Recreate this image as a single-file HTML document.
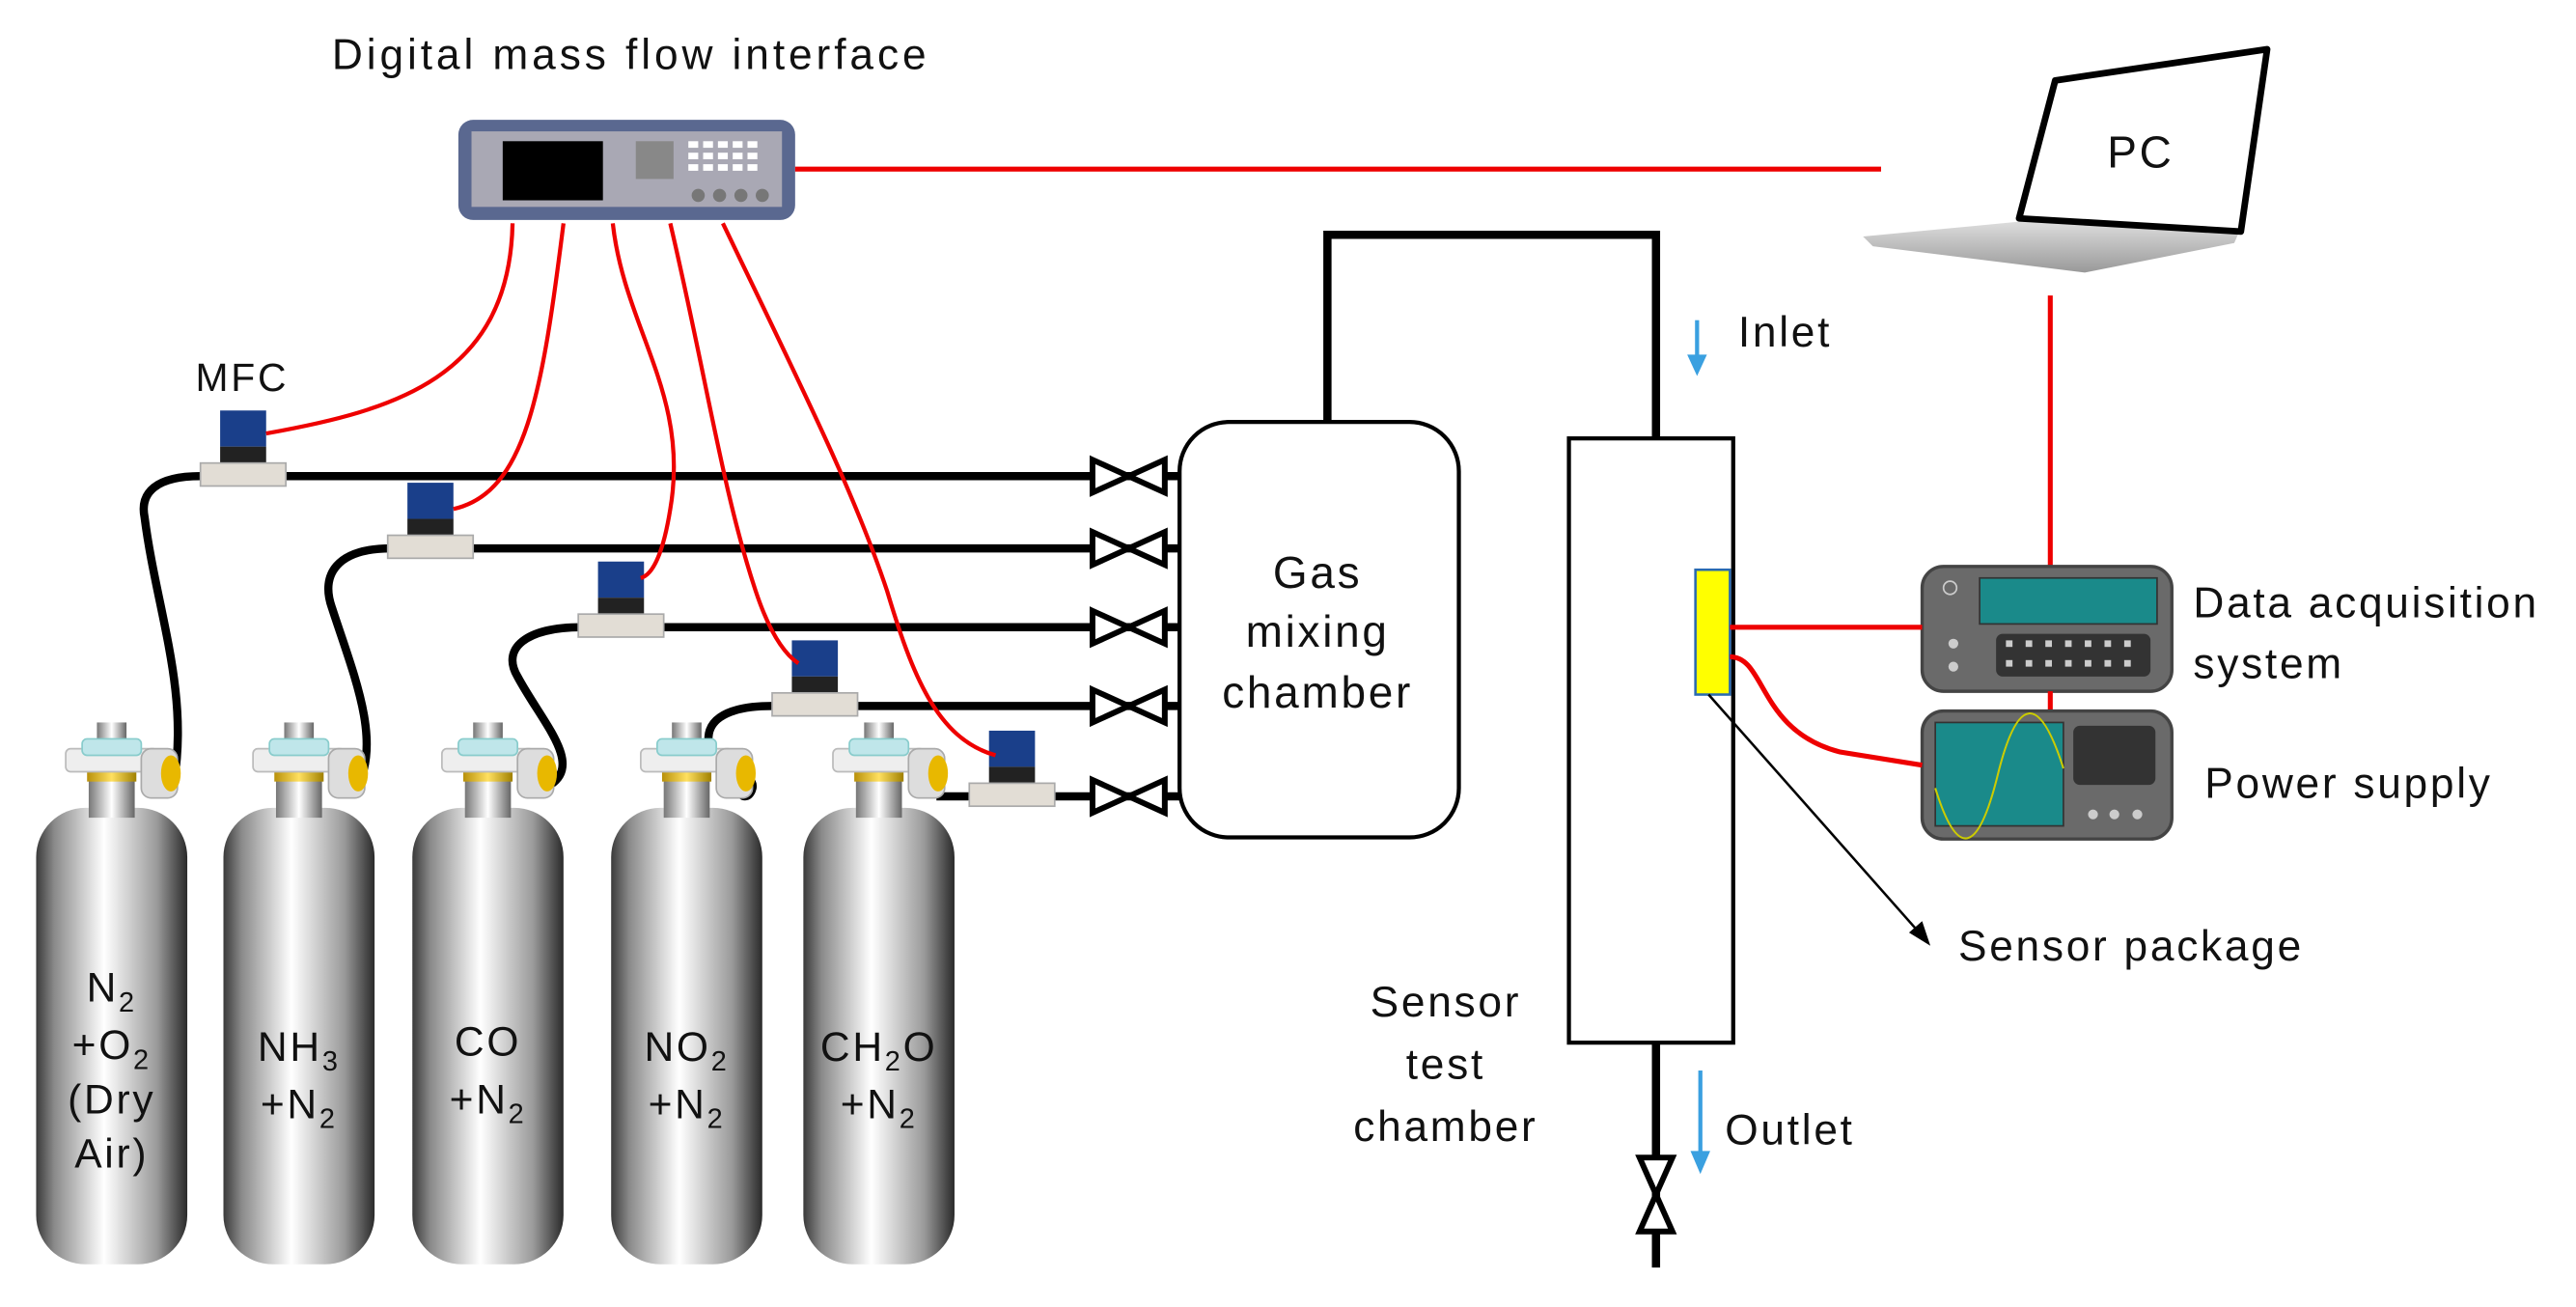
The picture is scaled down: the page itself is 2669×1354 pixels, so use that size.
<!DOCTYPE html>
<html><head><meta charset="utf-8"><style>
html,body{margin:0;padding:0;background:#fff;}
svg{display:block;}
text{font-family:"Liberation Sans",sans-serif;fill:#111;letter-spacing:1.6px;}
</style></head><body>
<svg width="2669" height="1354" viewBox="0 0 1568 796" preserveAspectRatio="none" xmlns="http://www.w3.org/2000/svg">
<defs>
<linearGradient id="cyl" x1="0" x2="1" y1="0" y2="0">
<stop offset="0" stop-color="#3a3a3a"/><stop offset="0.12" stop-color="#8a8a8a"/><stop offset="0.45" stop-color="#ffffff"/><stop offset="0.8" stop-color="#9a9a9a"/><stop offset="1" stop-color="#2a2a2a"/>
</linearGradient>
<linearGradient id="neck" x1="0" x2="1"><stop offset="0" stop-color="#777"/><stop offset="0.5" stop-color="#fff"/><stop offset="1" stop-color="#666"/></linearGradient>
<linearGradient id="yel" x1="0" x2="1"><stop offset="0" stop-color="#b8900a"/><stop offset="0.5" stop-color="#ffe060"/><stop offset="1" stop-color="#a08000"/></linearGradient>
<linearGradient id="base" x1="0" x2="0" y1="0" y2="1"><stop offset="0" stop-color="#ddd"/><stop offset="1" stop-color="#999"/></linearGradient>
<g id="cylinder">
<rect x="-46" y="492" width="92" height="278" rx="30" fill="url(#cyl)"/>
<rect x="-14" y="474" width="28" height="24" fill="url(#neck)"/>
<rect x="-15" y="467" width="30" height="9" fill="url(#yel)"/>
<rect x="-28" y="456" width="56" height="14" rx="3" fill="#eee" stroke="#bbb"/>
<rect x="-9" y="440" width="18" height="18" fill="url(#neck)"/>
<rect x="-18" y="450" width="36" height="10" rx="3" fill="#bfe6ea" stroke="#8cc"/>
<rect x="18" y="456" width="22" height="30" rx="6" fill="#ddd" stroke="#aaa"/>
<ellipse cx="36" cy="471" rx="6" ry="11" fill="#e8b800"/>
</g>
<g id="mfc">
<rect x="-14" y="-18" width="28" height="22" fill="#1a3f8a"/>
<rect x="-14" y="4" width="28" height="14" fill="#222"/>
<rect x="-26" y="14" width="52" height="14" fill="#e2ddd5" stroke="#aaa"/>
</g>
<g id="valveh">
<path d="M-22,-10 L22,10 L22,-10 L-22,10 Z" fill="#fff" stroke="#000" stroke-width="3.5" stroke-linejoin="miter"/>
</g>
</defs>

<!-- Title -->
<text x="202" y="42" font-size="26" style="letter-spacing:2.3px">Digital mass flow interface</text>
<!-- Interface -->
<rect x="279" y="73" width="205" height="61" rx="9" fill="#5a6890"/>
<rect x="287" y="80" width="189" height="46" fill="#a9a8b4"/>
<rect x="306" y="86" width="61" height="36" fill="#000"/>
<rect x="387" y="86" width="23" height="23" fill="#888"/>
<g fill="#fff"><rect x="419" y="86" width="6" height="4"/><rect x="428" y="86" width="6" height="4"/><rect x="437" y="86" width="6" height="4"/><rect x="446" y="86" width="6" height="4"/><rect x="455" y="86" width="6" height="4"/>
<rect x="419" y="93" width="6" height="4"/><rect x="428" y="93" width="6" height="4"/><rect x="437" y="93" width="6" height="4"/><rect x="446" y="93" width="6" height="4"/><rect x="455" y="93" width="6" height="4"/>
<rect x="419" y="100" width="6" height="4"/><rect x="428" y="100" width="6" height="4"/><rect x="437" y="100" width="6" height="4"/><rect x="446" y="100" width="6" height="4"/><rect x="455" y="100" width="6" height="4"/></g>
<g fill="#777"><circle cx="425" cy="119" r="4"/><circle cx="438" cy="119" r="4"/><circle cx="451" cy="119" r="4"/><circle cx="464" cy="119" r="4"/></g>
<line x1="484" y1="103" x2="1145" y2="103" stroke="#e00" stroke-width="3"/>

<!-- Laptop -->
<polygon points="1134,144 1229,135 1363,141 1360,148 1269,166 1140,150" fill="url(#base)"/>
<polygon points="1251,49 1380,30 1364,141 1229,133" fill="#fff" stroke="#000" stroke-width="4" stroke-linejoin="round"/>
<text x="1303" y="102" font-size="27" text-anchor="middle">PC</text>
<line x1="1248" y1="180" x2="1248" y2="346" stroke="#e00" stroke-width="3"/>

<!-- DAQ -->
<rect x="1170" y="345" width="152" height="76" rx="13" fill="#6a6a6a" stroke="#444" stroke-width="2"/>
<rect x="1205" y="352" width="108" height="28" fill="#1a8a8a" stroke="#333"/>
<rect x="1215" y="386" width="94" height="26" rx="4" fill="#333"/>
<g fill="#ccc"><rect x="1221" y="390" width="4" height="4"/><rect x="1233" y="390" width="4" height="4"/><rect x="1245" y="390" width="4" height="4"/><rect x="1257" y="390" width="4" height="4"/><rect x="1269" y="390" width="4" height="4"/><rect x="1281" y="390" width="4" height="4"/><rect x="1293" y="390" width="4" height="4"/><rect x="1221" y="402" width="4" height="4"/><rect x="1233" y="402" width="4" height="4"/><rect x="1245" y="402" width="4" height="4"/><rect x="1257" y="402" width="4" height="4"/><rect x="1269" y="402" width="4" height="4"/><rect x="1281" y="402" width="4" height="4"/><rect x="1293" y="402" width="4" height="4"/></g>
<circle cx="1187" cy="358" r="4" fill="none" stroke="#ccc"/><circle cx="1189" cy="392" r="3" fill="#ccc"/><circle cx="1189" cy="406" r="3" fill="#ccc"/>
<line x1="1248" y1="421" x2="1248" y2="433" stroke="#e00" stroke-width="3"/>
<!-- Power supply -->
<rect x="1170" y="433" width="152" height="78" rx="13" fill="#6a6a6a" stroke="#444" stroke-width="2"/>
<rect x="1178" y="440" width="78" height="63" fill="#1a8a8a" stroke="#333"/>
<path d="M1178,480 Q1198,545 1216,472 T1256,468" fill="none" stroke="#cc0" stroke-width="1.2"/>
<rect x="1262" y="442" width="50" height="36" rx="4" fill="#333"/>
<g fill="#ccc"><circle cx="1274" cy="496" r="3"/><circle cx="1287" cy="496" r="3"/><circle cx="1301" cy="496" r="3"/></g>
<text x="1335" y="376" font-size="26">Data acquisition</text>
<text x="1335" y="413" font-size="26">system</text>
<text x="1342" y="486" font-size="26">Power supply</text>

<!-- Sensor test chamber -->
<polyline points="808,258 808,143 1008,143 1008,267" fill="none" stroke="#000" stroke-width="5"/>
<rect x="955" y="267" width="100" height="368" fill="#fff" stroke="#000" stroke-width="2.5"/>
<rect x="1032" y="347" width="21" height="76" fill="#ffff00" stroke="#2a6ab0" stroke-width="1.5"/>
<line x1="1053" y1="382" x2="1170" y2="382" stroke="#e00" stroke-width="3"/>
<path d="M1053,400 C1075,400 1070,445 1120,458 L1170,466" fill="none" stroke="#e00" stroke-width="3"/>
<line x1="1040" y1="423" x2="1170" y2="570" stroke="#000" stroke-width="1.5"/>
<polygon points="1175,576 1162,568 1170,561" fill="#000"/>
<text x="1192" y="585" font-size="26">Sensor package</text>
<line x1="1033" y1="195" x2="1033" y2="218" stroke="#3aa0e0" stroke-width="2.5"/>
<polygon points="1027,216 1039,216 1033,229" fill="#3aa0e0"/>
<text x="1058" y="211" font-size="26">Inlet</text>
<line x1="1008" y1="635" x2="1008" y2="772" stroke="#000" stroke-width="5"/>
<path d="M998,705 L1018,750 L998,750 L1018,705 Z" fill="#fff" stroke="#000" stroke-width="3.5"/>
<line x1="1035" y1="652" x2="1035" y2="703" stroke="#3aa0e0" stroke-width="2.5"/>
<polygon points="1029,701 1041,701 1035,715" fill="#3aa0e0"/>
<text x="1050" y="697" font-size="26">Outlet</text>
<text x="880" y="619" font-size="26" text-anchor="middle">Sensor</text>
<text x="880" y="657" font-size="26" text-anchor="middle">test</text>
<text x="880" y="695" font-size="26" text-anchor="middle">chamber</text>

<!-- Gas mixing chamber -->
<rect x="718" y="257" width="170" height="253" rx="30" fill="#fff" stroke="#000" stroke-width="2.5"/>
<text x="802" y="358" font-size="27" text-anchor="middle">Gas</text>
<text x="802" y="394" font-size="27" text-anchor="middle">mixing</text>
<text x="802" y="431" font-size="27" text-anchor="middle">chamber</text>

<!-- gas lines -->
<g stroke="#000" stroke-width="5" fill="none">
<line x1="172" y1="290" x2="718" y2="290"/>
<line x1="288" y1="334" x2="718" y2="334"/>
<line x1="404" y1="382" x2="718" y2="382"/>
<line x1="520" y1="430" x2="718" y2="430"/>
<line x1="640" y1="485" x2="718" y2="485"/>
<path d="M122,290 C95,290 85,300 88,315 C95,370 115,420 106,475"/>
<path d="M238,334 C205,334 195,350 202,370 C215,410 232,450 218,478"/>
<path d="M354,382 C320,382 305,395 315,412 C330,440 355,465 335,478"/>
<path d="M470,430 C440,430 428,440 432,455 C438,470 460,470 458,480 C456,488 450,484 452,484"/>
<line x1="570" y1="485" x2="592" y2="485"/>
</g>
<g>
<use href="#valveh" x="687" y="290"/>
<use href="#valveh" x="687" y="334"/>
<use href="#valveh" x="687" y="382"/>
<use href="#valveh" x="687" y="430"/>
<use href="#valveh" x="687" y="485"/>
</g>
<!-- MFCs -->
<use href="#mfc" x="148" y="268"/>
<use href="#mfc" x="262" y="312"/>
<use href="#mfc" x="378" y="360"/>
<use href="#mfc" x="496" y="408"/>
<use href="#mfc" x="616" y="463"/>
<text x="119" y="238" font-size="24">MFC</text>

<!-- red wires -->
<g stroke="#e00" stroke-width="2.5" fill="none">
<path d="M312,136 C310,230 240,250 162,264"/>
<path d="M343,136 C330,240 320,300 276,310"/>
<path d="M373,136 C380,200 420,240 408,310 C404,335 398,350 390,352"/>
<path d="M408,136 C430,230 440,300 460,360 C470,390 480,400 486,404"/>
<path d="M440,136 C490,240 520,300 540,360 C555,410 570,450 606,460"/>
</g>

<!-- cylinders -->
<use href="#cylinder" x="68" y="0"/>
<use href="#cylinder" x="182" y="0"/>
<use href="#cylinder" x="297" y="0"/>
<use href="#cylinder" x="418" y="0"/>
<use href="#cylinder" x="535" y="0"/>
<g font-size="25" text-anchor="middle" style="letter-spacing:0">
<text x="68" y="610">N<tspan font-size="17" dy="6">2</tspan></text>
<text x="68" y="645">+O<tspan font-size="17" dy="6">2</tspan></text>
<text x="68" y="678">(Dry</text>
<text x="68" y="711">Air)</text>
<text x="182" y="646">NH<tspan font-size="17" dy="6">3</tspan></text>
<text x="182" y="681">+N<tspan font-size="17" dy="6">2</tspan></text>
<text x="297" y="643">CO</text>
<text x="297" y="678">+N<tspan font-size="17" dy="6">2</tspan></text>
<text x="418" y="646">NO<tspan font-size="17" dy="6">2</tspan></text>
<text x="418" y="681">+N<tspan font-size="17" dy="6">2</tspan></text>
<text x="535" y="646">CH<tspan font-size="17" dy="6">2</tspan><tspan dy="-6">O</tspan></text>
<text x="535" y="681">+N<tspan font-size="17" dy="6">2</tspan></text>
</g>
</svg>
</body></html>
